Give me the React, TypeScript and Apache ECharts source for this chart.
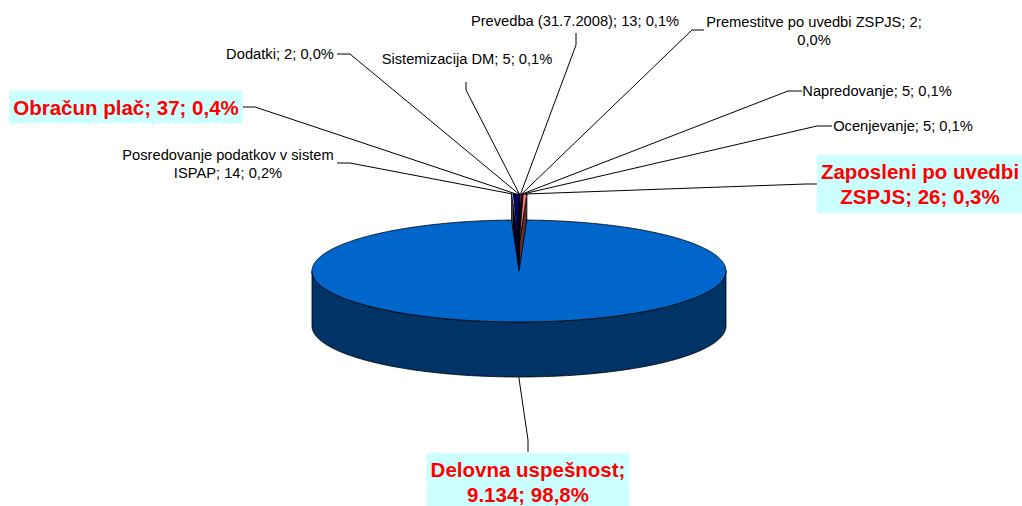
import React, { useEffect, useRef } from "react";
import * as echarts from "echarts";

// ---- data ----
const categories = [
  "Sistemizacija DM",
  "Prevedba (31.7.2008)",
  "Premestitve po uvedbi ZSPJS",
  "Napredovanje",
  "Ocenjevanje",
  "Zaposleni po uvedbi ZSPJS",
  "Delovna uspešnost",
  "Posredovanje podatkov v sistem ISPAP",
  "Obračun plač",
  "Dodatki",
];
const values = [5, 13, 2, 5, 5, 26, 9134, 14, 37, 2];

// ---- styles / layout ----
const sliceColors = ["#9999FF", "#993366", "#FFFFCC", "#CCFFFF", "#660066", "#FF8080", "#0066CC", "#CCCCFF", "#000080", "#FF00FF"];
const highlighted = [false, false, false, false, false, true, true, false, true, false];
const explodeOffsets = [26, 26, 26, 26, 26, 26, 0, 26, 26, 26];
const labelCenters = [
  [467, 59], [575, 21], [814, 31], [877, 91], [903, 126],
  [920, 184], [528, 482], [228, 164], [126, 107], [280, 54],
];
const leaderPoints = [
  [[466, 82], [466, 90]],
  [[576, 33], [576, 45]],
  [[704, 30], [692, 30]],
  [[802, 91], [788, 91]],
  [[832, 126], [817, 126]],
  [[818, 184], [806, 184]],
  [[528, 452], [528, 440]],
  [[337, 163], [350, 163]],
  [[243, 107], [255, 107]],
  [[337, 54], [350, 54]],
];
const wrapChars = [100, 100, 31, 100, 100, 20, 19, 31, 100, 100];

const CX = 519, CY = 271, RX = 207, RY = 51, DEPTH = 55;
const FONT = "'Liberation Sans', Arial, sans-serif";

const total = values.reduce((a, b) => a + b, 0);
const starts: number[] = [];
const ends: number[] = [];
{
  let acc = 0;
  values.forEach((v) => {
    starts.push((acc / total) * Math.PI * 2);
    acc += v;
    ends.push((acc / total) * Math.PI * 2);
  });
}

function fmtNum(v: number) {
  return String(v).replace(/\B(?=(\d{3})+(?!\d))/g, ".");
}
function fmtPct(v: number) {
  return ((v / total) * 100).toFixed(1).replace(".", ",") + "%";
}
function wrap(text: string, max: number) {
  const words = text.split(" ");
  const lines: string[] = [];
  let cur = "";
  for (const w of words) {
    const t = cur ? cur + " " + w : w;
    if (t.length > max && cur) {
      lines.push(cur);
      cur = w;
    } else cur = t;
  }
  if (cur) lines.push(cur);
  return lines.join("\n");
}
function shade(hex: string, f: number) {
  const n = parseInt(hex.slice(1), 16);
  const r = Math.round(((n >> 16) & 255) * f);
  const g = Math.round(((n >> 8) & 255) * f);
  const b = Math.round((n & 255) * f);
  return "rgb(" + r + "," + g + "," + b + ")";
}
function rim(t: number, dy: number) {
  return [CX + RX * Math.sin(t), CY - RY * Math.cos(t) + dy];
}
function arc(a0: number, a1: number, dy: number) {
  const n = Math.max(2, Math.ceil(Math.abs(a1 - a0) / (Math.PI / 360)));
  const pts: number[][] = [];
  for (let k = 0; k <= n; k++) pts.push(rim(a0 + ((a1 - a0) * k) / n, dy));
  return pts;
}

function renderItem(params: any) {
  const i = params.dataIndex;
  const a0 = starts[i], a1 = ends[i];
  const oy = -explodeOffsets[i];
  const color = sliceColors[i];
  const children: any[] = [];
  const stroke = { stroke: "#000", lineWidth: 0.8 };

  // front side wall
  const lo = Math.max(a0, Math.PI / 2), hi = Math.min(a1, (Math.PI * 3) / 2);
  if (lo < hi) {
    const pts = arc(lo, hi, oy).concat(arc(hi, lo, oy + DEPTH));
    children.push({ type: "polygon", z2: 1, shape: { points: pts }, style: { fill: shade(color, 0.5), ...stroke } });
  }
  // radial walls for exploded slices
  if (explodeOffsets[i] > 0) {
    [a0, a1].forEach((a) => {
      const pts = [rim(a, oy), [CX, CY + oy], [CX, CY + oy + DEPTH], rim(a, oy + DEPTH)];
      children.push({ type: "polygon", z2: 0, shape: { points: pts }, style: { fill: shade(color, 0.35), ...stroke } });
    });
  }
  // top face
  const top = [[CX, CY + oy]].concat(arc(a0, a1, oy));
  children.push({ type: "polygon", z2: explodeOffsets[i] > 0 ? 3 : 2, shape: { points: top }, style: { fill: color, ...stroke } });

  // leader line
  const mid = (a0 + a1) / 2;
  const anchor = Math.cos(mid) < 0 ? rim(mid, oy + DEPTH) : rim(mid, oy);
  const lp = leaderPoints[i];
  children.push({
    type: "polyline", z2: 10,
    shape: { points: [lp[0], lp[1], anchor] },
    style: { stroke: "#000", lineWidth: 1, fill: null },
  });

  // label
  const hl = highlighted[i];
  const text = wrap(categories[i] + "; " + fmtNum(values[i]) + "; " + fmtPct(values[i]), wrapChars[i]);
  const style: any = {
    text,
    x: labelCenters[i][0],
    y: labelCenters[i][1],
    align: "center",
    verticalAlign: "middle",
    fill: hl ? "#FF0000" : "#000000",
    fontSize: hl ? 20.5 : 14.7,
    fontWeight: hl ? "bold" : "normal",
    fontFamily: FONT,
    lineHeight: hl ? 25 : 18,
  };
  if (hl) {
    style.backgroundColor = "#CCFFFF";
    style.padding = [4, 4];
  }
  children.push({ type: "text", z2: 11, style });

  return { type: "group", children };
}

export default function App() {
  const ref = useRef<HTMLDivElement>(null);
  useEffect(() => {
    if (!ref.current) return;
    const chart = echarts.init(ref.current, null, { renderer: "svg" });
    chart.setOption({
      animation: false,
      backgroundColor: "#FFFFFF",
      series: [
        {
          type: "custom",
          coordinateSystem: "none",
          renderItem,
          data: values,
          silent: true,
        },
      ],
    });
    return () => chart.dispose();
  }, []);
  return (
    <div
      ref={ref}
      style={{ position: "fixed", left: 0, top: 0, width: 1022, height: 506 }}
    />
  );
}
